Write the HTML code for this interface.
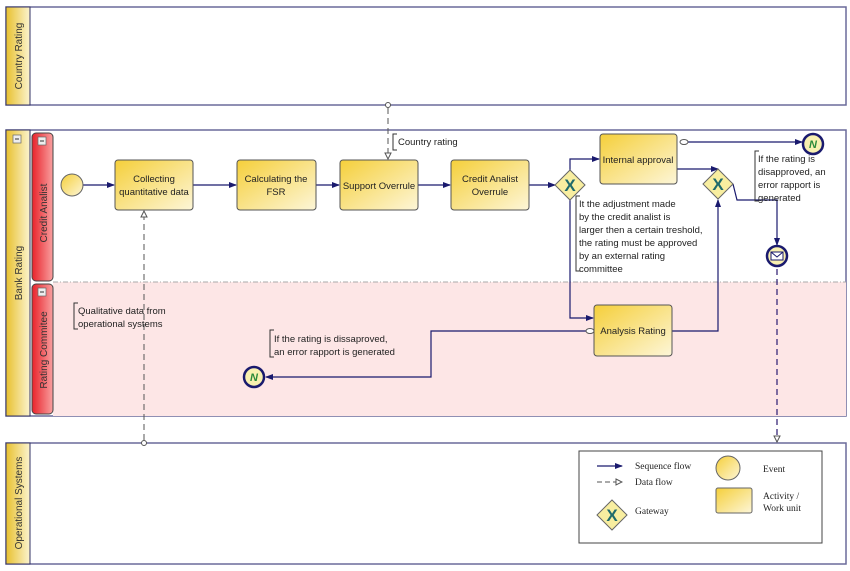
<!DOCTYPE html>
<html><head><meta charset="utf-8"><style>
body{margin:0;background:#fff;}
svg{display:block;font-family:"Liberation Sans",sans-serif;}
</style></head><body>
<svg width="850" height="571" viewBox="0 0 850 571" xmlns="http://www.w3.org/2000/svg">
<defs>
<linearGradient id="gy" x1="0" y1="0" x2="1" y2="1"><stop offset="0" stop-color="#f5cf3a"/><stop offset="1" stop-color="#fdf6d8"/></linearGradient>
<linearGradient id="gh" x1="0" y1="0" x2="1" y2="0"><stop offset="0" stop-color="#e8c12e"/><stop offset="1" stop-color="#fbf3cf"/></linearGradient>
<linearGradient id="gr" x1="0" y1="0" x2="1" y2="0"><stop offset="0" stop-color="#e8222a"/><stop offset="1" stop-color="#f9a0a0"/></linearGradient>
<marker id="a" markerWidth="8" markerHeight="8" refX="7" refY="4" orient="auto" markerUnits="userSpaceOnUse"><path d="M0,1 L8,4 L0,7z" fill="#1a1a6e"/></marker>
<marker id="d" markerWidth="8" markerHeight="8" refX="7" refY="4" orient="auto" markerUnits="userSpaceOnUse"><path d="M1,1 L7,4 L1,7z" fill="#fff" stroke="#555"/></marker>
</defs>
<!-- Country Rating -->
<rect x="6" y="7" width="840" height="98" fill="#fff" stroke="#6a6a9a" stroke-width="1.5"/>
<rect x="6" y="7" width="24" height="98" fill="url(#gh)" stroke="#333366"/>
<text transform="translate(22,56) rotate(-90)" font-size="10" text-anchor="middle" fill="#333">Country Rating</text>
<!-- Bank Rating -->
<rect x="6" y="130" width="840" height="286" fill="#fff" stroke="#6a6a9a" stroke-width="1.5"/>
<rect x="53" y="282" width="793" height="134" fill="#fde6e6"/>
<line x1="53" y1="282" x2="846" y2="282" stroke="#aaa" stroke-dasharray="5,2,1,2"/>
<rect x="6" y="130" width="24" height="286" fill="url(#gh)" stroke="#333366"/>
<rect x="13" y="135" width="8" height="8" fill="#eee" stroke="#666" stroke-width=".7"/><line x1="15" y1="139" x2="19" y2="139" stroke="#333"/>
<text transform="translate(22,273) rotate(-90)" font-size="10" text-anchor="middle" fill="#333">Bank Rating</text>
<rect x="32" y="133" width="21" height="148" rx="4" fill="url(#gr)" stroke="#444"/>
<rect x="38" y="137" width="8" height="8" fill="#eee" stroke="#666" stroke-width=".7"/><line x1="40" y1="141" x2="44" y2="141" stroke="#333"/>
<text transform="translate(47,213) rotate(-90)" font-size="10" text-anchor="middle" fill="#333">Credit Analist</text>
<rect x="32" y="284" width="21" height="130" rx="4" fill="url(#gr)" stroke="#444"/>
<rect x="38" y="288" width="8" height="8" fill="#eee" stroke="#666" stroke-width=".7"/><line x1="40" y1="292" x2="44" y2="292" stroke="#333"/>
<text transform="translate(47,350) rotate(-90)" font-size="10" text-anchor="middle" fill="#333">Rating Commitee</text>
<!-- Operational Systems -->
<rect x="6" y="443" width="840" height="121" fill="#fff" stroke="#6a6a9a" stroke-width="1.5"/>
<rect x="6" y="443" width="24" height="121" fill="url(#gh)" stroke="#333366"/>
<text transform="translate(22,503) rotate(-90)" font-size="10" text-anchor="middle" fill="#333">Operational Systems</text>
<!-- data flows -->
<g stroke="#555" stroke-dasharray="6,4" fill="none">
<line x1="388" y1="108" x2="388" y2="159" marker-end="url(#d)"/>
<line x1="144" y1="440" x2="144" y2="211" marker-end="url(#d)"/>
<line x1="777" y1="269" x2="777" y2="442" marker-end="url(#d)" stroke="#3a2a7a" stroke-width="1.3"/>
</g>
<circle cx="388" cy="105" r="2.5" fill="#fff" stroke="#555"/>
<circle cx="144" cy="443" r="2.5" fill="#fff" stroke="#555"/>
<!-- sequence flows -->
<g stroke="#1a1a6e" stroke-width="1.2" fill="none" marker-end="url(#a)">
<line x1="83" y1="185" x2="114" y2="185"/>
<line x1="193" y1="185" x2="236" y2="185"/>
<line x1="316" y1="185" x2="339" y2="185"/>
<line x1="418" y1="185" x2="450" y2="185"/>
<line x1="529" y1="185" x2="555" y2="185"/>
<polyline points="570,170 570,159 599,159"/>
<polyline points="570,200 570,318 593,318"/>
<polyline points="677,169 718,169"/>
<polyline points="672,331 718,331 718,200"/>
<polyline points="733,184 737,200 777,200 777,245"/>
<polyline points="681,142 802,142"/>
<polyline points="590,331 431,331 431,377 266,377"/>
</g>
<ellipse cx="684" cy="142" rx="4" ry="2.5" fill="#fff" stroke="#555"/>
<ellipse cx="590" cy="331" rx="4" ry="2.5" fill="#fff" stroke="#555"/>
<!-- start event -->
<circle cx="72" cy="185" r="11" fill="url(#gy)" stroke="#666"/>
<!-- tasks -->
<g stroke="#555" fill="url(#gy)">
<rect x="115" y="160" width="78" height="50" rx="3"/>
<rect x="237" y="160" width="79" height="50" rx="3"/>
<rect x="340" y="160" width="78" height="50" rx="3"/>
<rect x="451" y="160" width="78" height="50" rx="3"/>
<rect x="600" y="134" width="77" height="50" rx="3"/>
<rect x="594" y="305" width="78" height="51" rx="3"/>
</g>
<g font-size="9.5" fill="#222" text-anchor="middle">
<text x="154" y="182">Collecting</text><text x="154" y="195">quantitative data</text>
<text x="276" y="182">Calculating the</text><text x="276" y="195">FSR</text>
<text x="379" y="189">Support Overrule</text>
<text x="490" y="182">Credit Analist</text><text x="490" y="195">Overrule</text>
<text x="638" y="163">Internal approval</text>
<text x="633" y="334">Analysis Rating</text>
</g>
<!-- gateways -->
<g stroke="#666" fill="#f8eea0">
<path d="M570,170 L585,185 L570,200 L555,185z"/>
<path d="M718,169 L733,184 L718,199 L703,184z"/>
</g>
<g font-size="17" font-weight="bold" fill="#1f6b6b" text-anchor="middle">
<text x="570" y="191">X</text><text x="718" y="190">X</text>
</g>
<!-- end events -->
<g stroke="#1a1a6e" stroke-width="2.5" fill="#f8f0b0">
<circle cx="813" cy="144" r="10"/>
<circle cx="254" cy="377" r="10"/>
<circle cx="777" cy="256" r="10"/>
</g>
<g font-size="11" font-weight="bold" fill="#2a8a3a" text-anchor="middle" font-style="italic">
<text x="813" y="148">N</text><text x="254" y="381">N</text>
</g>
<rect x="771" y="252" width="12" height="8" fill="#fff" stroke="#1a1a6e"/>
<polyline points="771,252 777,257 783,252" fill="none" stroke="#1a1a6e"/>
<!-- annotations -->
<g stroke="#333" fill="none">
<polyline points="397,134 393,134 393,150 397,150"/>
<polyline points="78,303 74,303 74,329 78,329"/>
<polyline points="274,330 270,330 270,357 274,357"/>
<polyline points="580,196 576,196 576,271 580,271"/>
<polyline points="759,151 755,151 755,201 759,201"/>
</g>
<g font-size="9.5" fill="#222">
<text x="398" y="145">Country rating</text>
<text x="78" y="314">Qualitative data from</text><text x="78" y="327">operational systems</text>
<text x="274" y="342">If the rating is dissaproved,</text><text x="274" y="355">an error rapport is generated</text>
<text x="579" y="207">It the adjustment made</text>
<text x="579" y="220">by the credit analist is</text>
<text x="579" y="233">larger then a certain treshold,</text>
<text x="579" y="246">the rating must be approved</text>
<text x="579" y="259">by an external rating</text>
<text x="579" y="272">committee</text>
<text x="758" y="162">If the rating is</text>
<text x="758" y="175">disapproved, an</text>
<text x="758" y="188">error rapport is</text>
<text x="758" y="201">generated</text>
</g>
<!-- legend -->
<rect x="579" y="451" width="243" height="92" fill="#fff" stroke="#444"/>
<line x1="597" y1="466" x2="622" y2="466" stroke="#1a1a6e" stroke-width="1.2" marker-end="url(#a)"/>
<line x1="597" y1="482" x2="622" y2="482" stroke="#555" stroke-dasharray="5,3" marker-end="url(#d)"/>
<g font-family="Liberation Serif,serif" font-size="9.5" fill="#222">
<text x="635" y="469">Sequence flow</text>
<text x="635" y="485">Data flow</text>
<text x="635" y="514">Gateway</text>
<text x="763" y="472">Event</text>
<text x="763" y="499">Activity /</text>
<text x="763" y="511">Work unit</text>
</g>
<circle cx="728" cy="468" r="12" fill="url(#gy)" stroke="#666"/>
<rect x="716" y="488" width="36" height="25" rx="2" fill="url(#gy)" stroke="#666"/>
<path d="M612,500 L627,515 L612,530 L597,515z" fill="#f8eea0" stroke="#666"/>
<text x="612" y="521" font-size="17" font-weight="bold" fill="#1f6b6b" text-anchor="middle">X</text>
</svg>
</body></html>
